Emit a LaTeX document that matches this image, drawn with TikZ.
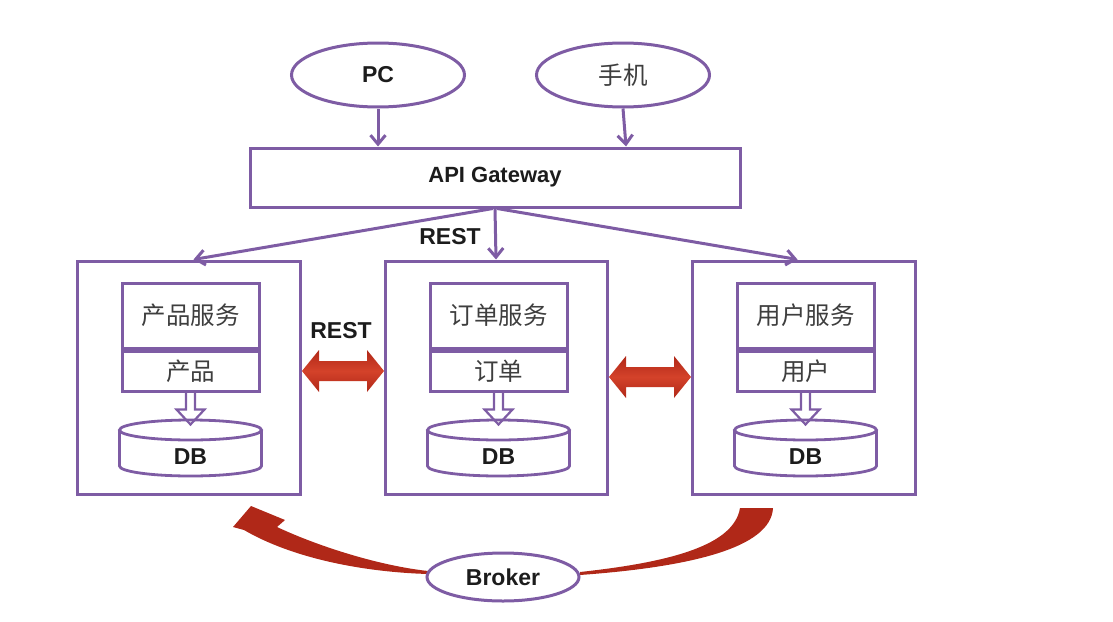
\documentclass[tikz,border=0pt]{standalone}
\usepackage{fontspec}
\setmainfont{Liberation Sans}
\newfontfamily\cjk{Noto Sans CJK SC}
\usetikzlibrary{shapes.geometric,arrows.meta,calc}
\definecolor{pur}{RGB}{126,92,164}
\definecolor{rd}{RGB}{176,40,24}
\definecolor{rdl}{RGB}{212,66,42}
\definecolor{txt}{RGB}{28,28,28}
\begin{document}
\begin{tikzpicture}[x=1pt,y=-1pt,
 line width=3pt,
 box/.style={draw=pur, rectangle, inner sep=0pt},
 oval/.style={draw=pur, ellipse, inner sep=0pt},
 lat/.style={font=\fontsize{23}{27}\selectfont\bfseries, text=txt},
 zh/.style={font=\fontsize{24.5}{28}\selectfont\cjk, text=txt!85},
 arr/.style={draw=pur, -{Straight Barb[length=9pt,width=15pt]}},
 dbline/.style={draw=pur, line width=2.8pt},
 hollow/.style={draw=pur, line width=2.2pt, line join=miter},
 redarrow/.style={top color=rd, bottom color=rd, middle color=rdl, draw=none},
 ]
\useasboundingbox (0,0) rectangle (1113,621);

% clients
\node[oval, lat, minimum width=173pt, minimum height=64pt] (pc) at (378,75) {PC};
\node[oval, zh, minimum width=173pt, minimum height=64pt] (phone) at (623,75) {手机};

% gateway
\node[box, lat, font=\fontsize{22}{26}\selectfont\bfseries, minimum width=490pt, minimum height=59pt] (gw) at (495,177.5) {API Gateway};

\draw[arr] (pc.south) -- (pc.south |- gw.north);
\draw[arr] (phone.south) -- ($(phone.south |- gw.north)+(3,0)$);

% service boxes
\node[box, minimum width=223pt, minimum height=233pt] (b1) at (188.5,377.5) {};
\node[box, minimum width=222pt, minimum height=233pt] (b2) at (496,377.5) {};
\node[box, minimum width=223pt, minimum height=233pt] (b3) at (803.5,377.5) {};

\draw[arr] ($(gw.south)+(-2,0)$) -- ($(b1.north)+(5,0)$);
\draw[arr] (gw.south) -- (b2.north);
\draw[arr] ($(gw.south)+(2,0)$) -- ($(b3.north)+(-6,0)$);
\node[lat] (rest1) at (450,237) {REST};

% inner boxes
\node[box, zh, minimum width=137pt, minimum height=65pt] (s1) at (190.5,315.5) {产品服务};
\node[box, zh, minimum width=137pt, minimum height=40pt, anchor=north] (d1) at (s1.south) {产品};
\node[box, zh, minimum width=137pt, minimum height=65pt] (s2) at (498.5,315.5) {订单服务};
\node[box, zh, minimum width=137pt, minimum height=40pt, anchor=north] (d2) at (s2.south) {订单};
\node[box, zh, minimum width=137pt, minimum height=65pt] (s3) at (805.5,315.5) {用户服务};
\node[box, zh, minimum width=137pt, minimum height=40pt, anchor=north] (d3) at (s3.south) {用户};

% databases
\foreach \i/\cx in {1/190.5,2/498.5,3/805.5}{
  \draw[dbline] (\cx,430) ellipse [x radius=71pt, y radius=10pt];
  \draw[dbline] (\cx-71,430) -- (\cx-71,466)
     .. controls (\cx-71,471.5) and (\cx-39.2,476) .. (\cx,476)
     .. controls (\cx+39.2,476) and (\cx+71,471.5) .. (\cx+71,466) -- (\cx+71,430);
  \node[lat] (db\i) at (\cx,457) {DB};
  \coordinate (dbtop\i) at ($(d\i.south)+(0,32)$);
  \draw[hollow] ($(d\i.south)+(-4.5,0)$) -- ++(0,17) -- ++(-9.5,0) -- (dbtop\i)
     -- ($(d\i.south)+(14,17)$) -- ++(-9.5,0) -- ++(0,-17);
}

% REST double arrows
\coordinate (la) at (302,371);
\coordinate (lb) at (384,371);
\shade[redarrow] (la) -- ++(17,-21) -- ++(0,11) -- ($(lb)+(-17,-10)$) -- ++(0,-11) -- (lb)
  -- ++(-17,21) -- ++(0,-11) -- ($(la)+(17,10)$) -- ++(0,11) -- cycle;
\node[lat] (rest2) at (341,331) {REST};

\coordinate (ra) at (609,377);
\coordinate (rb) at (691,377);
\shade[redarrow] (ra) -- ++(17,-21) -- ++(0,11) -- ($(rb)+(-17,-10)$) -- ++(0,-11) -- (rb)
  -- ++(-17,21) -- ++(0,-11) -- ($(ra)+(17,10)$) -- ++(0,11) -- cycle;

% broker curved arrows
\fill[rd] (233,527) -- (251,506) -- (285,520) -- (277,527)
  .. controls (322,548) and (382,566) .. (428,571) -- (428,574)
  .. controls (362,572) and (292,558) .. (244,530) -- cycle;
\fill[rd] (740,508) -- (773,508)
  .. controls (771,548) and (690,567) .. (580,575) -- (580,572)
  .. controls (672,562) and (734,545) .. (740,508) -- cycle;

\node[oval, lat, fill=white, minimum width=152pt, minimum height=48pt] (br) at (503,577) {Broker};
\end{tikzpicture}
\end{document}
